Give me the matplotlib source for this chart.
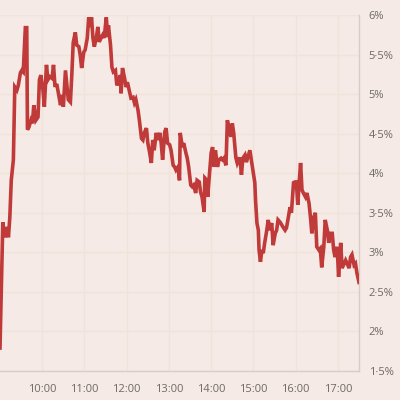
import matplotlib
matplotlib.use("Agg")
import matplotlib.pyplot as plt
from matplotlib.ticker import FixedLocator

# minutes after 9:00 and rate (%)
minuty = [0, 4, 7, 10, 12, 14, 16, 19, 21, 24, 26, 29, 31, 33, 36, 38, 39, 41, 44, 46,
          48, 51, 54, 56, 58, 61, 63, 66, 68, 71, 74, 76, 78, 81, 83, 86, 88, 90, 93, 95,
          97, 100, 102, 104, 107, 109, 112, 114, 116, 119, 121, 124, 126, 128, 130, 132, 134, 137, 139, 141,
          144, 146, 148, 151, 153, 154, 157, 159, 161, 164, 166, 169, 171, 172, 174, 177, 179, 181, 184, 186,
          189, 191, 193, 196, 198, 201, 203, 205, 208, 210, 212, 215, 217, 219, 222, 224, 227, 229, 231, 234,
          236, 238, 241, 243, 246, 248, 250, 253, 255, 256, 259, 261, 264, 266, 268, 271, 273, 275, 278, 280,
          283, 285, 287, 290, 291, 294, 295, 298, 300, 302, 304, 306, 309, 311, 314, 316, 318, 321, 323, 325,
          328, 330, 332, 335, 337, 340, 342, 343, 345, 348, 350, 352, 355, 357, 360, 362, 363, 365, 367, 368,
          370, 372, 374, 376, 379, 381, 383, 386, 388, 391, 393, 395, 398, 400, 402, 405, 407, 409, 412, 414,
          417, 419, 421, 423, 425, 427, 429, 431, 434, 436, 439, 441, 443, 446, 448, 450, 453, 455, 457, 460,
          462, 465, 467, 469, 472, 474, 476, 479, 481, 484, 486, 488, 491, 493, 496, 498, 500, 503, 505, 507,
          510]
stopa = [1.79, 3.38, 3.19, 3.32, 3.19, 3.45, 3.91, 4.17, 5.09, 5.05, 5.11, 5.27, 5.30, 5.28, 5.84, 5.84, 4.55, 4.58, 4.67, 4.63,
         4.86, 4.67, 4.71, 5.18, 5.24, 5.05, 4.84, 5.37, 5.18, 5.22, 5.20, 5.37, 5.11, 5.11, 5.01, 4.86, 4.99, 4.84, 5.30, 5.11,
         4.93, 4.90, 5.24, 5.65, 5.78, 5.62, 5.60, 5.49, 5.33, 5.53, 5.56, 5.71, 5.97, 5.85, 5.97, 5.71, 5.60, 5.72, 5.85, 5.66,
         5.72, 5.75, 5.71, 5.97, 5.72, 5.87, 5.62, 5.34, 5.28, 5.30, 5.11, 5.18, 5.24, 5.01, 5.33, 5.20, 5.09, 5.15, 5.03, 4.95,
         4.96, 4.89, 4.93, 4.80, 4.67, 4.44, 4.42, 4.51, 4.57, 4.38, 4.29, 4.13, 4.42, 4.29, 4.51, 4.42, 4.51, 4.38, 4.17, 4.52,
         4.57, 4.38, 4.36, 4.29, 4.10, 4.08, 4.04, 4.08, 3.91, 4.51, 4.33, 4.38, 4.26, 4.19, 4.08, 3.85, 3.83, 3.85, 3.75, 3.91,
         3.89, 3.76, 3.70, 3.51, 3.94, 3.91, 3.70, 4.04, 4.26, 4.33, 4.08, 4.29, 4.08, 4.17, 4.19, 4.17, 4.19, 4.10, 4.67, 4.58,
         4.46, 4.63, 4.51, 4.20, 4.13, 4.20, 4.08, 3.98, 4.19, 4.23, 4.14, 4.20, 4.29, 4.17, 4.00, 3.88, 3.66, 3.37, 3.28, 3.03,
         2.88, 3.03, 2.99, 3.12, 3.28, 3.41, 3.28, 3.37, 3.09, 3.24, 3.28, 3.41, 3.38, 3.35, 3.32, 3.28, 3.31, 3.41, 3.57, 3.50,
         3.88, 3.89, 3.89, 3.60, 3.88, 4.13, 3.79, 3.75, 3.70, 3.75, 3.62, 3.45, 3.24, 3.45, 3.50, 3.07, 3.03, 3.05, 2.81, 3.07,
         3.41, 3.28, 3.12, 3.24, 3.24, 3.03, 2.94, 3.07, 2.69, 3.12, 2.80, 2.84, 2.90, 2.86, 2.80, 2.94, 2.97, 2.84, 2.86, 2.74,
         2.62]

sati = [10, 11, 12, 13, 14, 15, 16, 17]
sati_oznake = ["10:00", "11:00", "12:00", "13:00", "14:00", "15:00", "16:00", "17:00"]
y_vrijednosti = [1.5, 2, 2.5, 3, 3.5, 4, 4.5, 5, 5.5, 6]
y_oznake = ["1·5%", "2%", "2·5%", "3%", "3·5%", "4%", "4·5%", "5%", "5·5%", "6%"]

pozadina = "#f5eae5"
plt.rcParams["font.family"] = ["Open Sans", "DejaVu Sans"]

fig = plt.figure(figsize=(4, 4), dpi=100, facecolor=pozadina)
ax = fig.add_axes([0.0, 0.0725, 0.8975, 0.89])
ax.set_facecolor(pozadina)

x = [9 + m / 60 for m in minuty]
ax.plot(x, stopa, color="#c03a3a", linewidth=2.6, solid_joinstyle="miter", zorder=3)

ax.set_xlim(9, 17.5)
ax.set_ylim(1.5, 6)
ax.xaxis.set_major_locator(FixedLocator(sati))
ax.set_xticklabels(sati_oznake)
ax.yaxis.set_major_locator(FixedLocator(y_vrijednosti))
ax.set_yticklabels(y_oznake)
ax.yaxis.tick_right()

ax.grid(True, color="#f0e3d9", linewidth=1)
ax.set_axisbelow(True)
for s in ["top", "left"]:
    ax.spines[s].set_visible(False)
for s in ["right", "bottom"]:
    ax.spines[s].set_color("#d9ccc6")
    ax.spines[s].set_linewidth(1)
ax.tick_params(axis="both", length=0, labelsize=8, labelcolor="#6e6866")
ax.tick_params(axis="x", pad=9)
ax.tick_params(axis="y", pad=7)

fig.savefig("out.png", dpi=100, facecolor=pozadina)
